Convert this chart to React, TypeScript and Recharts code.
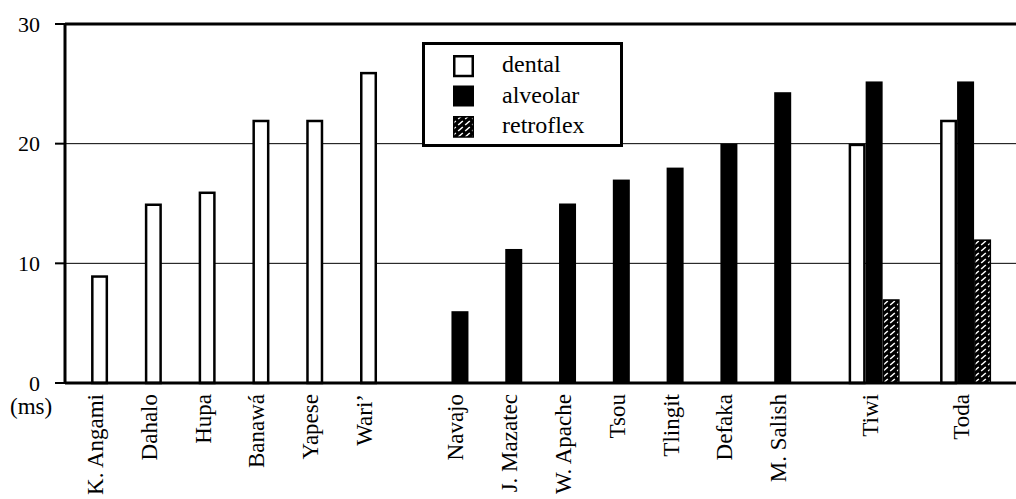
import { BarChart, Bar, XAxis, YAxis, CartesianGrid, ReferenceLine, Legend } from 'recharts';

const SERIF = '"Liberation Serif", "Times New Roman", serif';

// one entry per language, left to right
const languages = [
  'K. Angami', 'Dahalo', 'Hupa', 'Banawá', 'Yapese', 'Wari’',
  'Navajo', 'J. Mazatec', 'W. Apache', 'Tsou', 'Tlingit', 'Defaka', 'M. Salish',
  'Tiwi', 'Toda',
];
// languages in the same cluster sit closer together
const clusters = [0, 0, 0, 0, 0, 0, 1, 1, 1, 1, 1, 1, 1, 2, 3];

// closure duration (ms) by place of articulation
const dental = [9, 15, 16, 22, 22, 26, null, null, null, null, null, null, null, 20, 22];
const alveolar = [null, null, null, null, null, null, 6, 11.2, 15, 17, 18, 20, 24.3, 25.2, 25.2];
const retroflex = [null, null, null, null, null, null, null, null, null, null, null, null, null, 7, 12];

const seriesKeys = ['dental', 'alveolar', 'retroflex'];
const yTicks = [0, 10, 20, 30];

const CLUSTER_GAP = 0.7;

const data = languages.map((name, i) => ({
  name,
  pos: i + clusters[i] * CLUSTER_GAP,
  dental: dental[i],
  alveolar: alveolar[i],
  retroflex: retroflex[i],
}));

const Hatch = ({ id }: { id: string }) => (
  <pattern id={id} patternUnits="userSpaceOnUse" width={7} height={6}>
    <rect width={7} height={6} fill="#000" />
    <path d="M1.2,5 L5.8,1" stroke="#fff" strokeWidth={1.5} />
  </pattern>
);

const drawRect = (key: string, x: number, y: number, w: number, h: number, hatchId: string) => {
  if (key === 'dental') {
    return <rect x={x + 1.25} y={y + 1.25} width={w - 2.5} height={Math.max(h - 1.25, 0)} fill="#fff" stroke="#000" strokeWidth={2.5} />;
  }
  if (key === 'alveolar') {
    return <rect x={x} y={y} width={w} height={h} fill="#000" />;
  }
  return <rect x={x + 0.75} y={y + 0.75} width={w - 1.5} height={Math.max(h - 0.75, 0)} fill={`url(#${hatchId})`} stroke="#000" strokeWidth={1.5} />;
};

// bars of a language are packed side by side around its tick,
// leaving no empty slot for a missing place of articulation
const makeShape = (key: string) => (props: any) => {
  const { x, y, width, height, payload } = props;
  if (payload == null || payload[key] == null) return null;
  const slot = seriesKeys.indexOf(key);
  const center = x + width / 2 + (1 - slot) * width;
  const present = seriesKeys.filter((k) => payload[k] != null);
  const k = present.indexOf(key);
  const left = center + (k - (present.length - 1) / 2) * width - width / 2;
  return drawRect(key, left, y, width, height, 'hatch');
};

const LanguageTick = ({ x, y, payload }: any) => {
  const row = data.find((d) => d.pos === payload.value);
  const top = y + 11;
  return (
    <text
      x={x}
      y={top}
      dy={3}
      transform={`rotate(-90, ${x}, ${top})`}
      textAnchor="end"
      fontFamily={SERIF}
      fontSize={23}
      fill="#000"
    >
      {row ? row.name : ''}
    </text>
  );
};

const LegendBox = () => (
  <svg width={201} height={105}>
    <defs>
      <Hatch id="hatch-key" />
    </defs>
    <rect x={1.5} y={1.5} width={198} height={102} fill="#fff" stroke="#000" strokeWidth={3} />
    {seriesKeys.map((key, i) => {
      const top = 13 + i * 30.5;
      return (
        <g key={key}>
          {drawRect(key, 31, top, 21, 21, 'hatch-key')}
          <text x={80} y={top + 17} fontFamily={SERIF} fontSize={24} fill="#000">
            {key}
          </text>
        </g>
      );
    })}
  </svg>
);

const App = () => (
  <div style={{ position: 'absolute', left: 0, top: 0, width: 1016, height: 499, background: '#fff' }}>
    <BarChart
      width={1016}
      height={499}
      data={data}
      margin={{ top: 24, right: 0, left: 15, bottom: 0 }}
      barGap={0}
      barSize={17}
    >
      <defs>
        <Hatch id="hatch" />
      </defs>
      <CartesianGrid vertical={false} stroke="#000" strokeWidth={1} />
      <XAxis
        type="number"
        dataKey="pos"
        domain={[-0.65, 17.03]}
        allowDataOverflow
        ticks={data.map((d) => d.pos)}
        interval={0}
        tick={<LanguageTick />}
        tickLine={false}
        tickSize={0}
        tickMargin={0}
        height={116}
        axisLine={{ stroke: '#000', strokeWidth: 3 }}
      />
      <YAxis
        type="number"
        domain={[0, 30]}
        ticks={yTicks}
        width={50}
        tickSize={10}
        tickMargin={15}
        tick={{ fill: '#000', fontSize: 22, fontFamily: SERIF }}
        tickLine={{ stroke: '#000', strokeWidth: 2 }}
        axisLine={{ stroke: '#000', strokeWidth: 3 }}
      />
      <ReferenceLine y={30} stroke="#000" strokeWidth={3} />
      {seriesKeys.map((key) => (
        <Bar key={key} dataKey={key} shape={makeShape(key)} isAnimationActive={false} />
      ))}
      <Legend
        layout="vertical"
        align="center"
        verticalAlign="middle"
        content={<LegendBox />}
        wrapperStyle={{ left: 422, top: 42, width: 201, height: 105 }}
      />
    </BarChart>
    <div
      style={{
        position: 'absolute',
        left: 10,
        top: 396,
        fontFamily: SERIF,
        fontSize: 23,
        lineHeight: '22px',
        color: '#000',
      }}
    >
      (ms)
    </div>
  </div>
);

export default App;
